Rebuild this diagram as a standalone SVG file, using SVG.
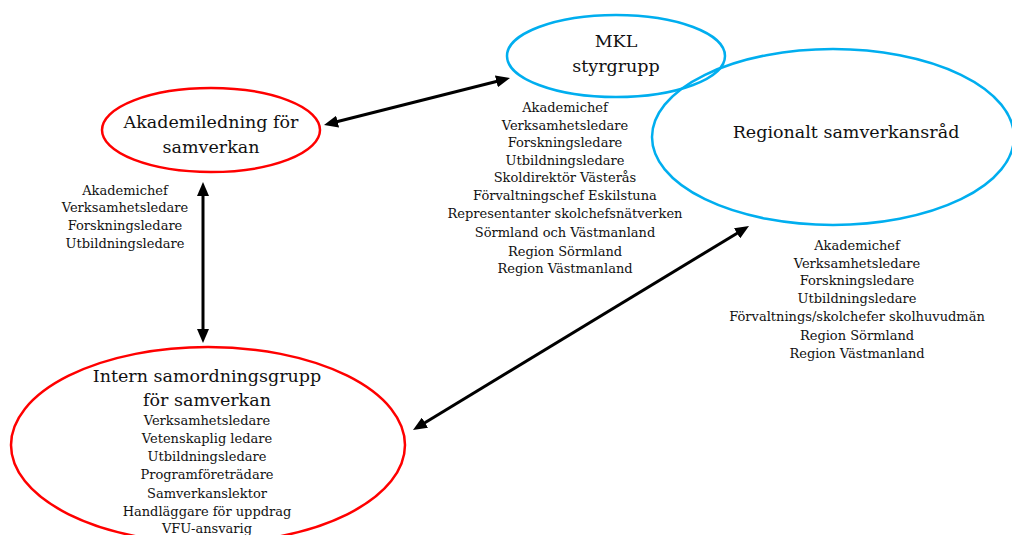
<svg xmlns="http://www.w3.org/2000/svg" width="1012" height="535" viewBox="0 0 1012 535">
<defs>
<marker id="ah" markerUnits="userSpaceOnUse" markerWidth="14" markerHeight="12" refX="4" refY="6" orient="auto-start-reverse">
<path d="M0,0 L14,6 L0,12 z" fill="#000"/>
</marker>
<style>
.red{fill:none;stroke:#FF0000;stroke-width:2.5}
.blue{fill:none;stroke:#00AEEF;stroke-width:2.5}
.big{font-family:"DejaVu Serif","Liberation Serif",serif;font-size:17.5px;fill:#111;text-anchor:middle}
.sm{font-family:"DejaVu Serif","Liberation Serif",serif;font-size:13px;fill:#111;text-anchor:middle}
.con{stroke:#000;stroke-width:3;fill:none;marker-start:url(#ah);marker-end:url(#ah)}
</style>
</defs>
<rect width="1012" height="535" fill="#fff"/>
<g id="regionalt">
<ellipse class="blue" cx="833" cy="137" rx="181" ry="88"/>
<text class="big" x="846" y="138">Regionalt samverkansråd</text>
</g>
<g id="mkl">
<ellipse class="blue" cx="616" cy="56" rx="109" ry="41"/>
<text class="big" x="616" y="47">MKL</text>
<text class="big" x="616" y="72">styrgrupp</text>
</g>
<g id="akademiledning">
<ellipse class="red" cx="211" cy="130" rx="109" ry="42"/>
<text class="big" x="211" y="128">Akademiledning för</text>
<text class="big" x="211" y="153">samverkan</text>
</g>
<g id="intern">
<ellipse class="red" cx="208" cy="445" rx="197" ry="98"/>
<text class="big" x="207" y="382">Intern samordningsgrupp</text>
<text class="big" x="207" y="406">för samverkan</text>
<text class="sm" x="207" y="425">Verksamhetsledare</text>
<text class="sm" x="207" y="443">Vetenskaplig ledare</text>
<text class="sm" x="207" y="461">Utbildningsledare</text>
<text class="sm" x="207" y="479">Programföreträdare</text>
<text class="sm" x="207" y="498">Samverkanslektor</text>
<text class="sm" x="207" y="516">Handläggare för uppdrag</text>
<text class="sm" x="207" y="533">VFU-ansvarig</text>
</g>
<g id="akademi-list">
<text class="sm" x="125" y="195">Akademichef</text>
<text class="sm" x="125" y="212">Verksamhetsledare</text>
<text class="sm" x="125" y="230">Forskningsledare</text>
<text class="sm" x="125" y="248">Utbildningsledare</text>
</g>
<g id="mkl-list">
<text class="sm" x="565" y="112">Akademichef</text>
<text class="sm" x="565" y="130">Verksamhetsledare</text>
<text class="sm" x="565" y="147">Forskningsledare</text>
<text class="sm" x="565" y="165">Utbildningsledare</text>
<text class="sm" x="565" y="182">Skoldirektör Västerås</text>
<text class="sm" x="565" y="200">Förvaltningschef Eskilstuna</text>
<text class="sm" x="565" y="218">Representanter skolchefsnätverken</text>
<text class="sm" x="565" y="237">Sörmland och Västmanland</text>
<text class="sm" x="565" y="256">Region Sörmland</text>
<text class="sm" x="565" y="273">Region Västmanland</text>
</g>
<g id="regional-list">
<text class="sm" x="857" y="250">Akademichef</text>
<text class="sm" x="857" y="268">Verksamhetsledare</text>
<text class="sm" x="857" y="285">Forskningsledare</text>
<text class="sm" x="857" y="303">Utbildningsledare</text>
<text class="sm" x="857" y="321">Förvaltnings/skolchefer skolhuvudmän</text>
<text class="sm" x="857" y="340">Region Sörmland</text>
<text class="sm" x="857" y="358">Region Västmanland</text>
</g>
<g id="connectors">
<line class="con" x1="333.7" y1="122.55" x2="500.3" y2="80.45"/>
<line class="con" x1="203" y1="192" x2="203" y2="333"/>
<line class="con" x1="740.45" y1="231.19" x2="421.55" y2="424.81"/>
</g>
</svg>
